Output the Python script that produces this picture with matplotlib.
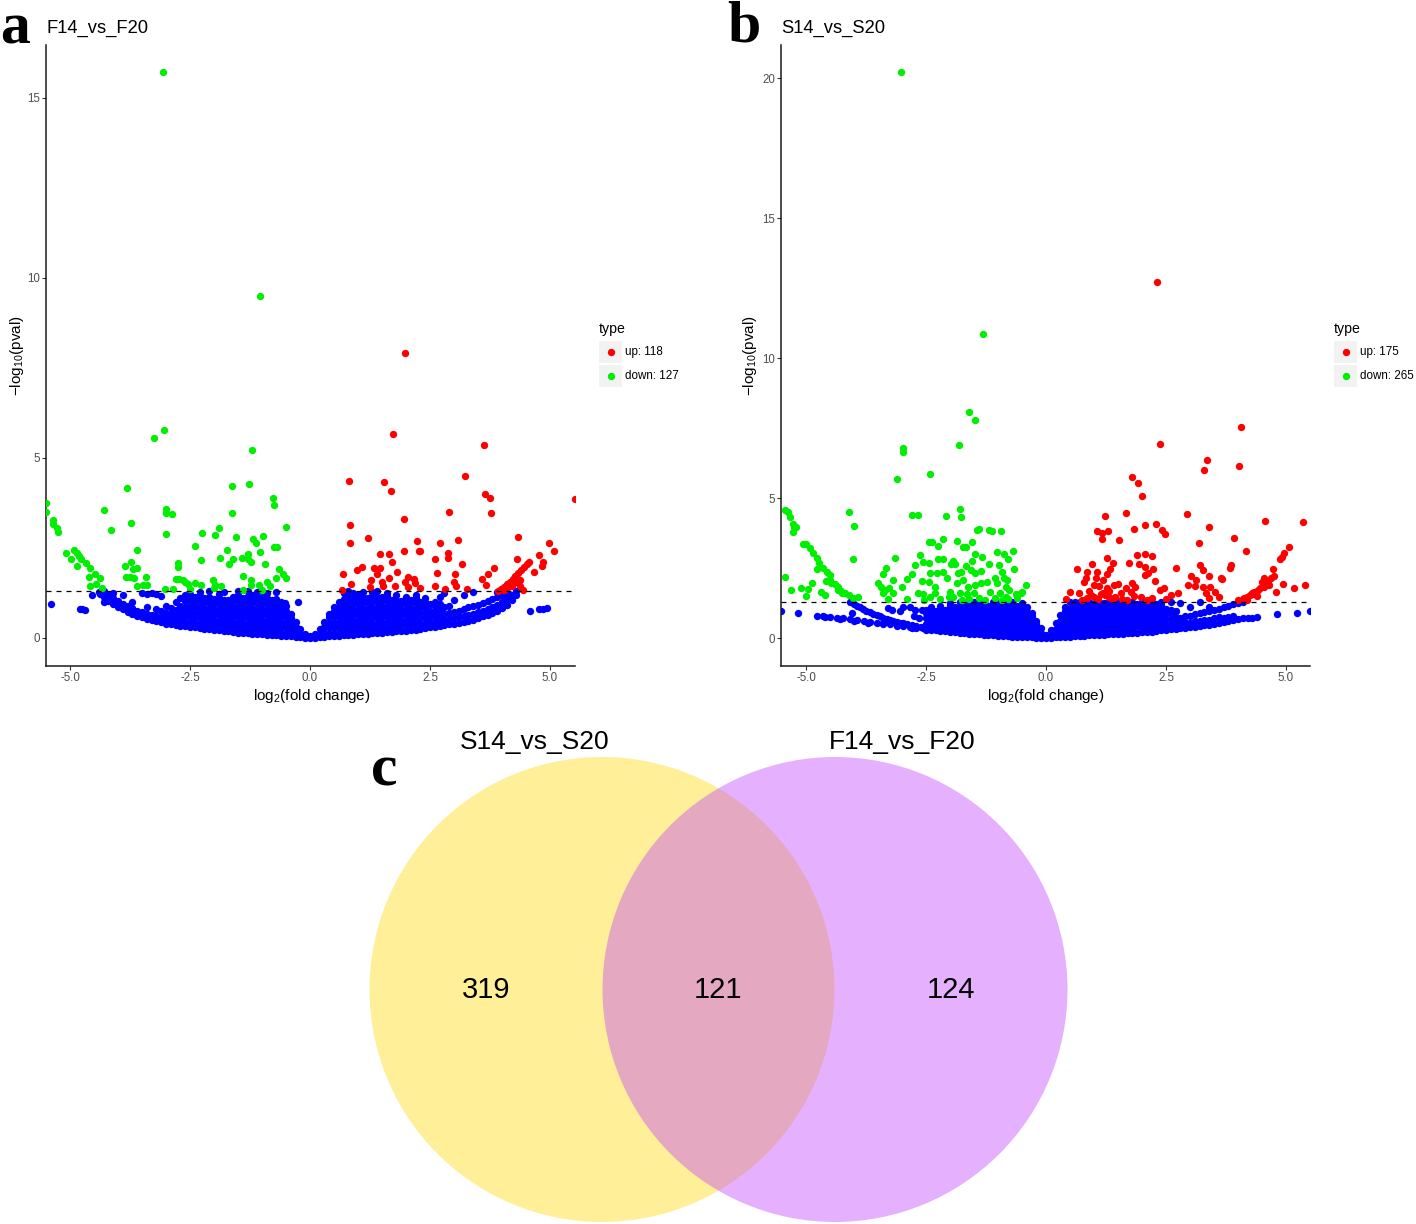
import matplotlib
matplotlib.use("Agg")
import matplotlib.pyplot as plt
from matplotlib.patches import Circle, Rectangle
import numpy as np

plt.rcParams['font.family'] = ['Liberation Sans', 'DejaVu Sans']
plt.rcParams['axes.unicode_minus'] = False
plt.rcParams['mathtext.fontset'] = 'custom'
plt.rcParams['mathtext.rm'] = 'Liberation Sans'

# ---------------- data ----------------
THRESH = 1.30  # -log10(0.05)

UP_A, DOWN_A = 118, 127
UP_B, DOWN_B = 175, 265

VENN_SETS = ['S14_vs_S20', 'F14_vs_F20']
VENN_COUNTS = [319, 121, 124]   # only left, both, only right

# panel a (F14_vs_F20): significant points, (log2FC, -log10 p)
GREEN_A = [
    (-3.06, 15.72), (-1.04, 9.50), (-3.25, 5.56), (-3.05, 5.78), (-1.21, 5.23),
    (-3.81, 4.16), (-1.63, 4.22), (-1.27, 4.28), (-0.78, 3.90), (-0.75, 3.70),
    (-5.50, 3.75), (-5.50, 3.50), (-5.35, 3.28), (-5.35, 3.17), (-5.27, 3.06), (-5.24, 2.94),
    (-4.30, 3.54), (-3.72, 3.20), (-4.14, 3.00), (-3.00, 3.58), (-2.99, 3.48), (-2.87, 3.44),
    (-3.00, 2.90), (-1.62, 3.48), (-0.51, 3.07), (-2.24, 2.92), (-1.98, 2.85), (-1.89, 3.06),
    (-1.55, 2.81), (-1.18, 2.75), (-1.13, 2.63), (-0.97, 2.82), (-2.40, 2.55), (-1.73, 2.44),
    (-1.04, 2.38), (-0.76, 2.53), (-0.68, 2.53), (-3.60, 2.44), (-5.09, 2.35), (-4.98, 2.19),
    (-4.92, 2.44), (-4.86, 2.37), (-4.81, 2.28), (-4.77, 2.19), (-4.85, 2.00),
    (-4.67, 2.07), (-4.59, 1.94), (-4.61, 1.69), (-4.48, 1.77), (-4.38, 1.67), (-4.59, 1.44),
    (-4.45, 1.50), (-4.34, 1.40), (-3.85, 2.00), (-3.73, 2.12), (-3.69, 1.91), (-3.61, 1.93),
    (-3.76, 1.70), (-3.67, 1.67), (-3.83, 1.70), (-3.61, 1.44), (-3.41, 1.69), (-3.48, 1.46),
    (-3.40, 1.46), (-2.75, 2.07), (-2.75, 1.98), (-2.79, 1.63), (-2.72, 1.63), (-2.65, 1.61),
    (-2.60, 1.55), (-2.54, 1.50), (-2.40, 1.52), (-2.28, 1.46), (-2.50, 1.37), (-3.02, 1.35),
    (-2.86, 1.35), (-2.27, 2.17), (-1.88, 2.23), (-1.68, 2.05), (-1.60, 2.19), (-1.42, 2.23),
    (-1.29, 2.32), (-1.29, 2.19), (-1.23, 2.12), (-0.93, 2.06), (-0.65, 1.91), (-0.57, 1.77),
    (-0.49, 1.66), (-0.71, 1.66), (-1.39, 1.73), (-1.23, 1.61), (-1.23, 1.48), (-1.07, 1.47),
    (-0.89, 1.54), (-0.83, 1.44), (-1.00, 1.33), (-1.40, 1.33), (-2.03, 1.61), (-1.98, 1.46),
    (-1.85, 1.44), (-2.00, 1.40),
]
RED_A = [
    (1.98, 7.92), (1.73, 5.67), (3.63, 5.37), (3.22, 4.49), (0.81, 4.36), (1.54, 4.34),
    (1.68, 4.09), (3.65, 4.01), (3.75, 3.88), (5.52, 3.85), (2.90, 3.50), (3.76, 3.47),
    (1.96, 3.30), (0.83, 3.15), (0.84, 2.65), (1.21, 2.78), (2.22, 2.69), (2.70, 2.65),
    (3.08, 2.73), (4.33, 2.81), (4.97, 2.65), (5.09, 2.42), (4.77, 2.30), (4.86, 2.10),
    (4.83, 2.00), (4.67, 1.83), (1.96, 2.41), (2.28, 2.41), (2.30, 2.41), (2.88, 2.37),
    (2.88, 2.21), (2.61, 2.20), (1.64, 2.33), (1.45, 2.33), (1.70, 2.12), (4.32, 2.20),
    (3.83, 1.94), (3.70, 1.77), (3.59, 1.65), (3.66, 1.46), (3.17, 2.04), (3.02, 1.78),
    (2.64, 1.80), (2.99, 1.56), (3.05, 1.44), (3.26, 1.35), (2.82, 1.35), (2.61, 1.43),
    (2.30, 1.39), (2.19, 1.52), (2.17, 1.63), (2.05, 1.70), (1.98, 1.54), (2.04, 1.41),
    (1.78, 1.44), (1.81, 1.83), (1.65, 1.66), (1.50, 1.55), (1.53, 1.43), (1.26, 1.61),
    (1.24, 1.41), (1.40, 1.78), (1.34, 1.95), (1.45, 1.94), (0.98, 1.88), (1.08, 1.97),
    (0.69, 1.77), (0.85, 1.50), (0.67, 1.33),
    (3.92, 1.30), (3.98, 1.36), (4.04, 1.42), (4.10, 1.49), (4.16, 1.56), (4.22, 1.64),
    (4.28, 1.72), (4.34, 1.80), (4.40, 1.88), (4.46, 1.96), (4.52, 2.04), (4.56, 2.12),
    (4.10, 1.38), (4.20, 1.45), (4.30, 1.55), (4.38, 1.62), (4.05, 1.32), (4.38, 1.43),
    (4.44, 1.33),
]
# non-significant points, read column by column: (log2FC, [-log10 p, ...])
BLUE_A_COLS = [
    (-4.40, [1.28]), (-4.30, [1.15, 1.30]), (-4.20, [1.02, 1.18]),
    (-4.10, [0.93, 1.10, 1.25]), (-4.00, [0.86, 1.02]), (-3.90, [0.79, 0.95, 1.20]),
    (-3.80, [0.72, 0.88]), (-3.70, [0.66, 0.82, 1.00]), (-3.60, [0.61, 0.76]),
    (-3.50, [0.57, 0.72, 1.25]), (-3.40, [0.53, 0.67, 0.85, 1.21]), (-3.30, [0.49, 0.63, 1.24]),
    (-3.20, [0.46, 0.60, 0.80, 1.22]), (-3.10, [0.43, 0.57, 0.75, 1.17]),
    (-3.00, [0.40, 0.54, 0.70, 0.88]), (-2.90, [0.38, 0.50, 0.66, 0.82]),
    (-2.80, [0.36, 0.48, 0.62, 0.78, 1.00]), (-2.70, [0.34, 0.46, 0.60, 0.74, 0.90, 1.10]),
    (-2.60, [0.32, 0.45, 0.58, 0.70, 0.85, 1.02, 1.20]),
    (-2.50, [0.30, 0.45, 0.60, 0.75, 0.90, 1.05, 1.22]),
    (-2.40, [0.29, 0.40, 0.55, 0.70, 0.85, 1.00, 1.15]),
    (-2.30, [0.27, 0.42, 0.57, 0.72, 0.87, 1.02, 1.17, 1.28]),
    (-2.20, [0.26, 0.36, 0.51, 0.66, 0.81, 0.96, 1.10]),
    (-2.10, [0.24, 0.39, 0.54, 0.69, 0.84, 0.99, 1.14, 1.29]),
    (-2.00, [0.22, 0.33, 0.48, 0.63, 0.78, 0.93, 1.08]),
    (-1.90, [0.21, 0.36, 0.51, 0.66, 0.81, 0.96, 1.11, 1.22]),
    (-1.80, [0.20, 0.30, 0.45, 0.60, 0.75, 0.90, 1.05, 1.28]),
    (-1.70, [0.18, 0.33, 0.48, 0.63, 0.78, 0.93, 1.05]),
    (-1.60, [0.17, 0.27, 0.42, 0.57, 0.72, 0.87, 1.02, 1.15]),
    (-1.50, [0.15, 0.30, 0.45, 0.60, 0.75, 0.90, 1.05, 1.20, 1.29]),
    (-1.40, [0.14, 0.24, 0.39, 0.54, 0.69, 0.84, 0.99, 1.10]),
    (-1.30, [0.13, 0.27, 0.42, 0.57, 0.72, 0.87, 1.02, 1.17, 1.30]),
    (-1.20, [0.12, 0.21, 0.36, 0.51, 0.66, 0.81, 0.96, 1.11, 1.20]),
    (-1.10, [0.11, 0.24, 0.39, 0.54, 0.69, 0.84, 0.99, 1.14, 1.28]),
    (-1.00, [0.10, 0.18, 0.33, 0.48, 0.63, 0.78, 0.93, 1.08, 1.15]),
    (-0.90, [0.09, 0.21, 0.36, 0.51, 0.66, 0.81, 0.96, 1.11, 1.25]),
    (-0.80, [0.08, 0.15, 0.30, 0.45, 0.60, 0.75, 0.90, 1.05]),
    (-0.70, [0.07, 0.18, 0.33, 0.48, 0.63, 0.78, 0.93, 1.08, 1.27]),
    (-0.60, [0.06, 0.12, 0.27, 0.42, 0.57, 0.72, 0.87, 1.00]),
    (-0.50, [0.05, 0.15, 0.30, 0.45, 0.60, 0.75, 0.90]),
    (-0.40, [0.04, 0.12, 0.24, 0.39, 0.54, 0.66]),
    (-0.30, [0.03, 0.15, 0.30, 0.45]),
    (-0.20, [0.02, 0.12, 0.26]),
    (-0.10, [0.01, 0.12]),
    (0.00, [0.00, 0.05]),
    (0.10, [0.01, 0.12]),
    (0.20, [0.02, 0.12, 0.26]),
    (0.30, [0.03, 0.15, 0.30, 0.45]),
    (0.40, [0.04, 0.12, 0.27, 0.42, 0.57, 0.66]),
    (0.50, [0.05, 0.15, 0.30, 0.45, 0.60, 0.75, 0.85]),
    (0.60, [0.06, 0.12, 0.27, 0.42, 0.57, 0.72, 0.87, 1.00]),
    (0.70, [0.07, 0.18, 0.33, 0.48, 0.63, 0.78, 0.93, 1.08, 1.25]),
    (0.80, [0.08, 0.15, 0.30, 0.45, 0.60, 0.75, 0.90, 1.05, 1.20, 1.30]),
    (0.90, [0.09, 0.21, 0.36, 0.51, 0.66, 0.81, 0.96, 1.11, 1.24]),
    (1.00, [0.10, 0.18, 0.33, 0.48, 0.63, 0.78, 0.93, 1.08, 1.20]),
    (1.10, [0.11, 0.24, 0.39, 0.54, 0.69, 0.84, 0.99, 1.14, 1.28]),
    (1.20, [0.12, 0.21, 0.36, 0.51, 0.66, 0.81, 0.96, 1.10]),
    (1.30, [0.13, 0.27, 0.42, 0.57, 0.72, 0.87, 1.02, 1.17, 1.27]),
    (1.40, [0.14, 0.24, 0.39, 0.54, 0.69, 0.84, 0.99, 1.14, 1.30]),
    (1.50, [0.15, 0.30, 0.45, 0.60, 0.75, 0.90, 1.05, 1.15]),
    (1.60, [0.16, 0.27, 0.42, 0.57, 0.72, 0.87, 1.02, 1.17, 1.26]),
    (1.70, [0.17, 0.33, 0.48, 0.63, 0.78, 0.93, 1.05]),
    (1.80, [0.18, 0.30, 0.45, 0.60, 0.75, 0.90, 1.05, 1.20]),
    (1.90, [0.19, 0.36, 0.51, 0.66, 0.81, 0.96, 1.02]),
    (2.00, [0.20, 0.33, 0.48, 0.63, 0.78, 0.93, 1.08, 1.15]),
    (2.10, [0.22, 0.39, 0.54, 0.69, 0.84, 0.99, 1.05]),
    (2.20, [0.23, 0.36, 0.51, 0.66, 0.81, 0.96, 1.11, 1.20]),
    (2.30, [0.25, 0.42, 0.57, 0.72, 0.87, 1.00]),
    (2.40, [0.27, 0.40, 0.55, 0.70, 0.85, 1.00, 1.10]),
    (2.50, [0.29, 0.45, 0.60, 0.75, 0.95]),
    (2.60, [0.31, 0.44, 0.58, 0.72, 0.88, 1.00]),
    (2.70, [0.33, 0.48, 0.62, 0.78, 0.95, 1.15]),
    (2.80, [0.36, 0.50, 0.66, 0.85, 1.25]),
    (2.90, [0.38, 0.53, 0.70, 0.90]),
    (3.00, [0.40, 0.55, 0.72, 1.05]),
    (3.10, [0.42, 0.58, 0.75]),
    (3.20, [0.45, 0.60, 0.80, 1.20]),
    (3.30, [0.48, 0.64, 0.85]),
    (3.40, [0.51, 0.67, 0.90, 1.28]),
    (3.50, [0.55, 0.72, 0.92]),
    (3.60, [0.60, 0.76, 0.97]),
    (3.70, [0.65, 0.80, 1.02]),
    (3.80, [0.70, 0.86, 1.08]),
    (3.90, [0.76, 0.92, 1.15, 1.28]),
    (4.00, [0.83, 1.00, 1.20]),
    (4.10, [0.92, 1.08, 1.25]),
    (4.20, [1.05, 1.20]),
    (4.30, [1.18, 1.30]),
]
BLUE_A_EXTRA = [
    (-5.40, 0.94), (-4.79, 0.80), (-4.74, 0.79), (-4.69, 0.78), (-4.55, 1.18), (-4.37, 1.22),
    (-4.30, 1.01), (-4.17, 1.06), (-4.06, 0.96), (-4.24, 1.15), (-0.24, 1.01), (-0.52, 0.96),
    (4.58, 0.76), (4.76, 0.80), (4.85, 0.81), (4.93, 0.82),
]

# panel b (S14_vs_S20)
GREEN_B = [
    (-3.02, 20.20), (-1.32, 10.87), (-1.60, 8.06), (-1.47, 7.80), (-1.82, 6.90), (-2.98, 6.80),
    (-2.97, 6.64), (-3.10, 5.69), (-2.42, 5.86), (-2.79, 4.39), (-2.66, 4.39), (-2.08, 4.37),
    (-1.79, 4.61), (-1.76, 4.33), (-4.11, 4.49), (-4.00, 4.01), (-4.03, 2.83),
    (-5.43, 4.57), (-5.38, 4.51), (-5.33, 4.33), (-5.28, 4.07), (-5.24, 3.98), (-5.21, 3.98),
    (-5.26, 3.80), (-5.06, 3.36), (-4.99, 3.36), (-4.92, 3.23), (-4.85, 3.02), (-4.78, 2.85),
    (-4.73, 2.69), (-4.76, 2.46), (-4.64, 2.49), (-4.57, 2.37), (-4.50, 2.25), (-4.59, 2.04),
    (-4.47, 1.95), (-4.40, 1.92), (-4.33, 1.81), (-4.27, 1.69), (-4.18, 1.60), (-4.11, 1.54),
    (-4.03, 1.44), (-3.92, 1.48), (-4.25, 1.60), (-4.34, 1.71), (-4.50, 2.07), (-4.69, 1.65),
    (-4.61, 1.54), (-4.87, 1.98), (-4.95, 1.75), (-5.11, 1.80), (-4.99, 1.51), (-5.31, 1.71),
    (-5.43, 2.19),
    (-3.15, 2.85), (-3.34, 2.49), (-3.40, 2.29), (-3.49, 1.95), (-3.43, 1.83), (-3.36, 1.71),
    (-3.26, 1.77), (-3.19, 1.62), (-3.40, 1.62), (-3.19, 2.07), (-3.00, 1.81), (-2.90, 2.10),
    (-2.79, 2.29), (-2.72, 2.61), (-2.62, 2.96), (-2.56, 2.73), (-2.43, 2.67), (-2.42, 2.33),
    (-2.44, 2.01), (-2.58, 2.05), (-2.67, 1.62), (-2.56, 1.56), (-2.42, 1.45), (-2.31, 1.62),
    (-2.31, 1.83), (-2.26, 2.33), (-2.15, 2.37), (-2.07, 2.13), (-2.14, 2.81), (-2.24, 2.81),
    (-2.15, 3.52), (-2.37, 3.43), (-2.43, 3.43), (-2.25, 3.30), (-1.86, 3.48), (-1.72, 3.26),
    (-1.67, 3.26), (-1.55, 3.43), (-1.48, 3.00), (-1.34, 2.88), (-1.54, 2.74), (-1.67, 2.57),
    (-1.93, 2.76), (-1.98, 2.64), (-1.89, 2.64), (-1.83, 2.31), (-1.76, 2.37), (-1.86, 1.95),
    (-1.72, 2.07), (-1.57, 2.43), (-1.48, 2.31), (-1.35, 2.40), (-1.22, 2.01), (-1.36, 1.95),
    (-1.47, 1.90), (-1.63, 1.83), (-2.00, 1.65), (-2.01, 1.48), (-1.93, 1.48), (-1.79, 1.62),
    (-1.65, 1.56), (-1.50, 1.62), (-1.40, 1.42), (-1.27, 1.36), (-1.16, 1.65), (-1.06, 2.13),
    (-1.02, 1.95), (-0.91, 2.37), (-0.88, 2.13), (-0.81, 2.07), (-0.84, 1.83), (-0.77, 1.71),
    (-0.95, 1.62), (-0.84, 1.48), (-0.67, 2.45), (-0.68, 3.12), (-0.88, 3.00), (-0.79, 2.82),
    (-1.03, 3.06), (-1.18, 2.64), (-0.98, 2.61), (-1.40, 3.90), (-1.43, 3.87), (-1.19, 3.86),
    (-1.12, 3.83), (-0.94, 3.82), (-0.51, 1.62), (-0.42, 1.89), (-0.63, 1.57), (-1.06, 1.42),
    (-0.91, 1.36), (-0.50, 1.66), (-3.30, 1.38), (-2.90, 1.40), (-2.55, 1.36), (-2.20, 1.38),
    (-1.75, 1.37), (-1.60, 1.40), (-0.80, 1.38), (-0.60, 1.42),
]
RED_B = [
    (2.31, 12.73), (2.37, 6.92), (4.07, 7.55), (4.03, 6.14), (3.35, 6.37), (3.30, 6.00),
    (1.79, 5.75), (1.92, 5.54), (2.01, 5.07), (1.22, 4.37), (1.66, 4.46), (2.93, 4.43),
    (5.36, 4.13), (4.56, 4.17), (3.40, 3.98), (2.30, 4.06), (2.42, 3.86), (2.48, 3.71),
    (2.07, 4.05), (1.84, 3.88), (1.06, 3.83), (1.17, 3.74), (1.29, 3.82), (1.17, 3.54),
    (1.53, 3.50), (3.18, 3.38), (3.91, 3.56), (5.07, 3.26), (4.17, 3.12), (4.96, 3.05),
    (4.91, 2.90), (4.87, 2.81), (3.85, 2.61), (3.83, 2.49), (3.21, 2.61), (3.28, 2.43),
    (2.70, 2.49), (1.90, 2.95), (2.07, 2.99), (2.21, 2.94), (1.72, 2.67), (1.94, 2.64),
    (2.06, 2.52), (2.12, 2.31), (2.07, 2.25), (2.23, 2.46), (2.27, 2.05),
    (1.28, 2.85), (1.40, 2.67), (1.34, 2.45), (1.27, 2.29), (1.06, 2.37), (0.96, 2.64),
    (0.85, 2.37), (0.83, 2.13), (0.79, 1.99), (1.04, 2.13), (1.18, 2.07), (0.99, 1.89),
    (0.89, 1.69), (1.11, 1.86), (1.27, 1.77), (1.41, 1.89), (1.50, 1.93), (1.56, 1.62),
    (1.66, 1.77), (1.80, 1.98), (1.86, 1.83), (1.77, 1.65), (1.44, 1.48), (1.31, 1.48),
    (1.14, 1.57), (1.01, 1.48), (0.85, 1.42), (0.68, 1.62), (0.51, 1.65), (0.64, 2.45),
    (0.41, 1.38), (1.31, 1.69), (1.22, 1.53), (1.84, 1.51), (1.97, 1.45), (2.21, 1.42),
    (2.46, 1.77), (2.37, 1.71), (2.61, 1.52), (2.76, 1.62), (3.02, 2.21), (3.13, 2.07),
    (3.11, 1.86), (2.95, 1.91), (3.27, 1.83), (3.42, 1.81), (3.40, 2.21), (3.33, 1.62),
    (3.53, 1.65), (3.61, 1.48), (3.64, 2.13), (3.67, 2.12), (3.39, 1.42), (4.55, 2.13),
    (4.49, 2.01), (4.73, 2.45), (4.75, 2.21), (4.55, 1.83), (4.45, 1.77), (4.34, 1.65),
    (4.24, 1.54), (4.13, 1.42), (4.29, 1.62), (4.80, 1.65), (4.93, 1.92), (5.17, 1.80),
    (5.39, 1.89), (4.01, 1.36),
    (1.09, 1.40), (1.19, 1.62), (0.94, 1.55), (1.37, 1.38), (1.59, 1.40), (0.74, 1.36),
    (1.69, 1.35), (2.10, 1.35), (2.50, 1.38), (4.19, 1.36), (4.39, 1.50), (4.64, 1.90),
    (4.10, 1.40), (4.18, 1.48), (4.30, 1.58), (4.42, 1.72), (4.62, 2.05), (4.68, 2.15),
]
BLUE_B_COLS = [
    (-2.50, [0.30, 0.50, 0.70, 0.90, 1.00]),
    (-2.40, [0.29, 0.40, 0.60, 0.80, 1.00, 1.10]),
    (-2.30, [0.27, 0.47, 0.67, 0.87, 0.95]),
    (-2.20, [0.26, 0.38, 0.58, 0.78, 0.98, 1.15]),
    (-2.10, [0.24, 0.44, 0.64, 0.84, 1.00]),
    (-2.00, [0.22, 0.35, 0.55, 0.75, 0.95, 1.15, 1.25]),
    (-1.90, [0.21, 0.41, 0.61, 0.81, 1.01, 1.10]),
    (-1.80, [0.19, 0.32, 0.52, 0.72, 0.92, 1.12, 1.30]),
    (-1.70, [0.18, 0.38, 0.58, 0.78, 0.98, 1.15]),
    (-1.60, [0.16, 0.28, 0.48, 0.68, 0.88, 1.08, 1.25]),
    (-1.50, [0.14, 0.34, 0.54, 0.74, 0.94, 1.14, 1.30]),
    (-1.40, [0.13, 0.25, 0.45, 0.65, 0.85, 1.05, 1.20]),
    (-1.30, [0.12, 0.32, 0.52, 0.72, 0.92, 1.12, 1.30]),
    (-1.20, [0.11, 0.22, 0.42, 0.62, 0.82, 1.02, 1.15]),
    (-1.10, [0.10, 0.30, 0.50, 0.70, 0.90, 1.10, 1.30]),
    (-1.00, [0.08, 0.20, 0.40, 0.60, 0.80, 1.00, 1.20, 1.25]),
    (-0.90, [0.07, 0.27, 0.47, 0.67, 0.87, 1.07, 1.30]),
    (-0.80, [0.06, 0.18, 0.38, 0.58, 0.78, 0.98, 1.18]),
    (-0.70, [0.05, 0.25, 0.45, 0.65, 0.85, 1.05, 1.28]),
    (-0.60, [0.05, 0.15, 0.35, 0.55, 0.75, 0.95, 1.15]),
    (-0.50, [0.04, 0.22, 0.42, 0.62, 0.82, 1.02, 1.25]),
    (-0.40, [0.03, 0.12, 0.32, 0.52, 0.72, 0.92, 1.10]),
    (-0.30, [0.02, 0.20, 0.40, 0.60, 0.80, 0.90]),
    (-0.20, [0.01, 0.10, 0.30, 0.50, 0.60]),
    (-0.10, [0.01, 0.18, 0.35]),
    (0.00, [0.00, 0.10]),
    (0.10, [0.01, 0.15, 0.30]),
    (0.20, [0.02, 0.12, 0.32, 0.52]),
    (0.30, [0.03, 0.22, 0.42, 0.62, 0.82]),
    (0.40, [0.04, 0.15, 0.35, 0.55, 0.75, 0.95, 1.10]),
    (0.50, [0.05, 0.25, 0.45, 0.65, 0.85, 1.05, 1.28]),
    (0.60, [0.06, 0.18, 0.38, 0.58, 0.78, 0.98, 1.18, 1.30]),
    (0.70, [0.07, 0.28, 0.48, 0.68, 0.88, 1.08, 1.28]),
    (0.80, [0.08, 0.20, 0.40, 0.60, 0.80, 1.00, 1.20, 1.30]),
    (0.90, [0.09, 0.30, 0.50, 0.70, 0.90, 1.10, 1.30]),
    (1.00, [0.10, 0.22, 0.42, 0.62, 0.82, 1.02, 1.22]),
    (1.10, [0.11, 0.32, 0.52, 0.72, 0.92, 1.12, 1.30]),
    (1.20, [0.12, 0.25, 0.45, 0.65, 0.85, 1.05, 1.25]),
    (1.30, [0.13, 0.35, 0.55, 0.75, 0.95, 1.15, 1.30]),
    (1.40, [0.14, 0.27, 0.47, 0.67, 0.87, 1.07, 1.27]),
    (1.50, [0.15, 0.37, 0.57, 0.77, 0.97, 1.17, 1.30]),
    (1.60, [0.16, 0.30, 0.50, 0.70, 0.90, 1.10, 1.28]),
    (1.70, [0.17, 0.40, 0.60, 0.80, 1.00, 1.20]),
    (1.80, [0.18, 0.32, 0.52, 0.72, 0.92, 1.12, 1.30]),
    (1.90, [0.19, 0.42, 0.62, 0.82, 1.02, 1.20]),
    (2.00, [0.20, 0.34, 0.54, 0.74, 0.94, 1.14, 1.30]),
    (2.10, [0.22, 0.44, 0.64, 0.84, 1.04, 1.25]),
    (2.20, [0.23, 0.36, 0.56, 0.76, 0.96, 1.16, 1.30]),
    (2.30, [0.25, 0.46, 0.66, 0.86, 1.06, 1.20]),
    (2.40, [0.27, 0.38, 0.58, 0.78, 0.98, 1.18, 1.30]),
    (2.50, [0.29, 0.48, 0.68, 0.88, 1.05]),
    (2.60, [0.31, 0.45, 0.65, 0.85, 1.00, 1.28]),
    (2.70, [0.33, 0.55, 0.75, 0.95]),
    (2.80, [0.35, 0.50, 0.70, 1.25]),
    (2.90, [0.37, 0.57, 0.78]),
    (3.00, [0.39, 0.55, 0.80, 1.10]),
    (3.10, [0.41, 0.62, 0.85]),
    (3.20, [0.43, 0.60, 0.88, 1.30]),
    (3.30, [0.45, 0.66, 0.92]),
    (3.40, [0.48, 0.65, 0.96, 1.10]),
    (3.50, [0.51, 0.72, 1.00]),
    (3.60, [0.54, 0.76, 1.05]),
    (3.70, [0.58, 0.72, 1.10]),
    (3.80, [0.62, 0.75, 1.15]),
    (3.90, [0.66, 0.78, 1.20]),
    (4.00, [0.68, 1.25]),
    (4.10, [0.70, 1.30]),
    (4.20, [0.72]), (4.30, [0.73]), (4.40, [0.74]),
]
BLUE_B_EXTRA = [
    (-5.51, 0.98), (-5.16, 0.88), (-4.05, 0.90),
    (-4.78, 0.80), (-4.65, 0.78), (-4.50, 0.76), (-4.36, 0.73), (-4.22, 0.70), (-4.08, 0.67),
    (-3.94, 0.64), (-3.80, 0.61), (-3.67, 0.58), (-3.53, 0.55), (-3.39, 0.52), (-3.25, 0.49),
    (-3.11, 0.46), (-2.97, 0.43), (-2.83, 0.40), (-2.70, 0.37), (-2.56, 0.35),
    (-4.60, 0.74), (-4.30, 0.68), (-4.00, 0.62), (-3.70, 0.55), (-3.40, 0.49), (-3.10, 0.43),
    (-2.80, 0.37),
    (-4.08, 1.30), (-4.00, 1.22), (-3.94, 1.16), (-3.87, 1.10), (-3.81, 1.04), (-3.74, 0.98),
    (-3.67, 0.93), (-3.60, 0.87), (-3.53, 0.82), (-3.46, 0.77), (-3.39, 0.73), (-3.32, 0.69),
    (-3.25, 0.65), (-3.18, 0.61), (-3.11, 0.58), (-3.04, 0.55), (-2.97, 0.52), (-2.90, 0.49),
    (-2.80, 0.46), (-2.70, 0.43), (-2.60, 0.40),
    (-3.20, 1.00), (-3.05, 0.97), (-2.97, 1.12), (-2.83, 1.10), (-2.73, 1.00), (-2.59, 1.00),
    (-3.30, 1.08), (-2.65, 0.70), (-2.75, 0.80),
    (4.81, 0.85), (5.22, 0.90), (5.49, 0.98),
]

# ---------------- drawing ----------------
W, H = 1416, 1224
fig = plt.figure(figsize=(W / 100, H / 100), dpi=100)

RED, GREEN, BLUE = '#FF0000', '#00EE00', '#0000FF'
DOT = 28


def frac_rect(left, top, right, bottom):
    return [left / W, 1 - bottom / H, (right - left) / W, (bottom - top) / H]


def expand(cols):
    return [(x, y) for x, ys in cols for y in ys]


def volcano(rect, blue, red, green, xlim, ylim, yticks):
    ax = fig.add_axes(rect)
    b = np.array(blue)
    ax.scatter(b[:, 0], b[:, 1], s=DOT, color=BLUE, linewidths=0, zorder=2)
    r = np.array(red)
    ax.scatter(r[:, 0], r[:, 1], s=DOT, color=RED, linewidths=0, zorder=3)
    g = np.array(green)
    ax.scatter(g[:, 0], g[:, 1], s=DOT, color=GREEN, linewidths=0, zorder=3)
    ax.axhline(THRESH, color='black', lw=0.9, ls=(0, (4, 4)), zorder=4)
    ax.set_xlim(*xlim)
    ax.set_ylim(*ylim)
    ax.set_xticks([-5.0, -2.5, 0.0, 2.5, 5.0])
    ax.set_xticklabels(['-5.0', '-2.5', '0.0', '2.5', '5.0'])
    ax.set_yticks(yticks)
    ax.set_yticklabels([str(t) for t in yticks])
    for s in ['top', 'right']:
        ax.spines[s].set_visible(False)
    for s in ['left', 'bottom']:
        ax.spines[s].set_linewidth(1.1)
        ax.spines[s].set_color('#1A1A1A')
    ax.tick_params(length=2.9, width=0.8, color='#333333', labelsize=8.3,
                   labelcolor='#4D4D4D', pad=1.5)
    ax.patch.set_alpha(0)
    return ax


volcano(frac_rect(46, 45, 575, 666), expand(BLUE_A_COLS) + BLUE_A_EXTRA, RED_A, GREEN_A,
        (-5.50, 5.52), (-0.78, 16.47), [0, 5, 10, 15])
volcano(frac_rect(781, 45, 1310, 666), expand(BLUE_B_COLS) + BLUE_B_EXTRA, RED_B, GREEN_B,
        (-5.52, 5.50), (-1.0, 21.18), [0, 5, 10, 15, 20])

# overlay in pixel units for titles, legends and the Venn diagram
ov = fig.add_axes([0, 0, 1, 1], zorder=-1)
ov.set_xlim(0, W)
ov.set_ylim(H, 0)
ov.axis('off')

letter_kw = dict(fontfamily=['Liberation Serif', 'DejaVu Serif'], fontweight='bold',
                 fontsize=43, va='baseline', ha='left')
ov.text(0, 43, 'a', **letter_kw)
ov.text(727, 41, 'b', **letter_kw)
ov.text(371, 785, 'c', **letter_kw)

for x0, title, ylab_x in [(47, 'F14_vs_F20', 17), (781, 'S14_vs_S20', 750)]:
    ov.text(x0, 33, title, fontsize=13.2, va='baseline', ha='left')
    ov.text(ylab_x, 355.5, r'$\mathregular{-log_{10}(pval)}$', rotation=90,
            ha='center', va='center', fontsize=11)
    ov.text(x0 + 264.5, 696, r'$\mathregular{log_2(fold\ change)}$',
            ha='center', va='center', fontsize=11)

for lx, n_up, n_down in [(599, UP_A, DOWN_A), (1334, UP_B, DOWN_B)]:
    ov.text(lx, 329, 'type', fontsize=10.2, ha='left', va='center')
    for i, (col, lab) in enumerate([(RED, f'up: {n_up}'), (GREEN, f'down: {n_down}')]):
        top = 341 + i * 24
        ov.add_patch(Rectangle((lx, top), 23, 22, facecolor='#F2F2F2', edgecolor='none'))
        ov.scatter([lx + 11.5], [top + 11], s=DOT, color=col, linewidths=0)
        ov.text(lx + 26, top + 11, lab, fontsize=8.4, ha='left', va='center')

# Venn diagram
VC_Y, VR = 989.5, 232.5
VC_X = [602, 835]
ov.add_patch(Circle((VC_X[0], VC_Y), VR, facecolor='#FFD700', alpha=0.4, edgecolor='none'))
ov.add_patch(Circle((VC_X[1], VC_Y), VR, facecolor='#BF3EFF', alpha=0.4, edgecolor='none'))
ov.text(VC_X[0] - 67, 742, VENN_SETS[0], fontsize=19, ha='center', va='center')
ov.text(VC_X[1] + 67, 742, VENN_SETS[1], fontsize=19, ha='center', va='center')
num_x = [(VC_X[0] - VR + VC_X[1] - VR) / 2, (VC_X[0] + VC_X[1]) / 2,
         (VC_X[0] + VR + VC_X[1] + VR) / 2]
for x, n in zip(num_x, VENN_COUNTS):
    ov.text(x, VC_Y + 1, str(n), fontsize=21, ha='center', va='center')

fig.savefig('out.png', dpi=100)
